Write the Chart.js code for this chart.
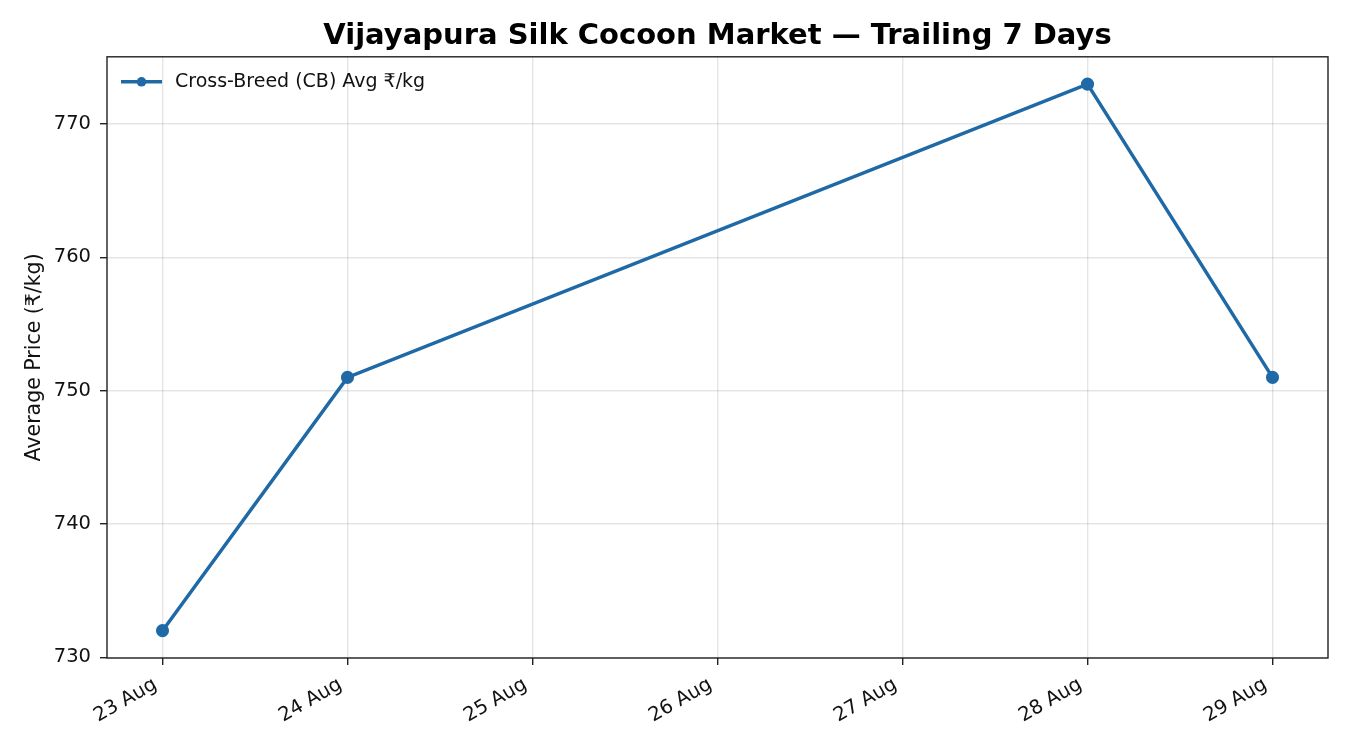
<!DOCTYPE HTML>
<html lang="en">
<head>
    <meta charset="utf-8">
    <script src="https://cdn.jsdelivr.net/npm/chart.js@4.4.0/dist/chart.umd.min.js"></script>
    <style>
        html, body { margin: 0; padding: 0; background: #fff; }
        #wrap { width: 1350px; height: 750px; }
    </style>
</head>
<body>
<div id="wrap"><canvas id="grafica"></canvas></div>
<script>
    // day of August for each reading
    const dias = [23, 24, 28, 29]
    const precios = [732, 751, 773, 751]
    const diasEje = [23, 24, 25, 26, 27, 28, 29]
    const ticksPrecio = [730, 740, 750, 760, 770]
    const serie = 'Cross-Breed (CB) Avg ₹/kg'

    const azul = '#1f6aa6'
    const fuente = '"DejaVu Sans", sans-serif'

    const puntos = dias.map((d, i) => ({ x: d, y: precios[i] }))

    // box around the plot + legend inside it
    const marcoYLeyenda = {
        id: 'marcoYLeyenda',
        afterDraw(chart) {
            const { ctx, chartArea: a } = chart
            ctx.save()
            ctx.strokeStyle = '#222'
            ctx.lineWidth = 1.4
            ctx.strokeRect(a.left, a.top, a.right - a.left, a.bottom - a.top)

            const y = a.top + 25
            ctx.strokeStyle = azul
            ctx.lineWidth = 3.5
            ctx.beginPath()
            ctx.moveTo(a.left + 14, y)
            ctx.lineTo(a.left + 55, y)
            ctx.stroke()
            ctx.fillStyle = azul
            ctx.beginPath()
            ctx.arc(a.left + 34.5, y, 4.8, 0, Math.PI * 2)
            ctx.fill()
            ctx.fillStyle = '#111'
            ctx.font = '19px ' + fuente
            ctx.textBaseline = 'middle'
            ctx.fillText(serie, a.left + 68, y)
            ctx.restore()
        }
    }

    new Chart(document.querySelector('#grafica'), {
        type: 'line',
        data: {
            datasets: [{
                label: serie,
                data: puntos,
                borderColor: azul,
                backgroundColor: azul,
                borderWidth: 3.5,
                pointRadius: 4.8,
                pointHoverRadius: 4.8,
                tension: 0
            }]
        },
        options: {
            responsive: true,
            maintainAspectRatio: false,
            animation: false,
            layout: { padding: { right: 22, left: 0, bottom: 0 } },
            plugins: {
                legend: { display: false },
                tooltip: { enabled: false },
                title: {
                    display: true,
                    fullSize: false,
                    text: 'Vijayapura Silk Cocoon Market — Trailing 7 Days',
                    color: '#000',
                    font: { family: fuente, size: 29, weight: 'bold' },
                    padding: { top: 19, bottom: 3 }
                }
            },
            scales: {
                x: {
                    type: 'linear',
                    min: 22.7,
                    max: 29.3,
                    afterBuildTicks: (s) => { s.ticks = diasEje.map(v => ({ value: v })) },
                    afterFit: (s) => { s.height = 92 },
                    border: { display: false },
                    grid: { color: 'rgba(0,0,0,0.1)', tickColor: '#222', tickLength: 7, lineWidth: 1.4 },
                    ticks: {
                        color: '#111',
                        font: { family: fuente, size: 19.5 },
                        autoSkip: false,
                        minRotation: 30,
                        maxRotation: 30,
                        padding: 8,
                        labelOffset: -7,
                        callback: (v) => v + ' Aug'
                    }
                },
                y: {
                    min: 729.95,
                    max: 775.05,
                    afterBuildTicks: (s) => { s.ticks = ticksPrecio.map(v => ({ value: v })) },
                    afterFit: (s) => { s.width = 107 },
                    border: { display: false },
                    grid: { color: 'rgba(0,0,0,0.1)', tickColor: '#222', tickLength: 7, lineWidth: 1.4 },
                    ticks: {
                        color: '#111',
                        font: { family: fuente, size: 19.5 },
                        padding: 9
                    },
                    title: {
                        display: true,
                        text: 'Average Price (₹/kg)',
                        color: '#111',
                        font: { family: fuente, size: 20.5 },
                        padding: { top: 22, bottom: 0 }
                    }
                }
            }
        },
        plugins: [marcoYLeyenda]
    })
</script>
</body>
</html>
